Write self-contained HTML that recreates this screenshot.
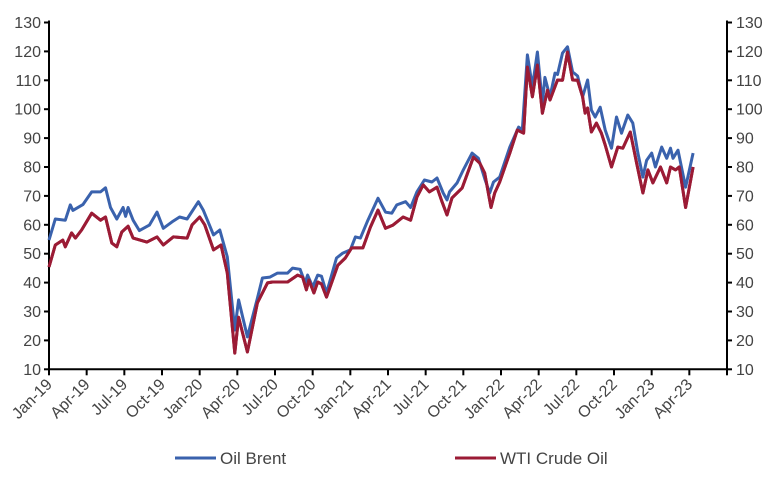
<!DOCTYPE html>
<html><head><meta charset="utf-8"><style>
body{margin:0;background:#fff;}
svg text{font-family:"Liberation Sans",sans-serif;fill:#444;}
</style></head><body>
<svg id="chart" width="776" height="477" viewBox="0 0 776 477" xmlns="http://www.w3.org/2000/svg"></svg>
<script>
const yTicks=[10,20,30,40,50,60,70,80,90,100,110,120,130];
const xTickLabels=["Jan-19","Apr-19","Jul-19","Oct-19","Jan-20","Apr-20","Jul-20","Oct-20","Jan-21","Apr-21","Jul-21","Oct-21","Jan-22","Apr-22","Jul-22","Oct-22","Jan-23","Apr-23"];
// months since Jan-2019
const brentDates=[0,0.5,1.3,1.7,1.9,2.7,3.4,4.1,4.5,4.9,5.4,5.9,6.1,6.3,6.7,7.2,8.0,8.6,9.1,9.8,10.4,11.0,11.9,12.3,13.1,13.6,14.2,14.8,15.1,15.8,16.6,17.0,17.6,18.2,19.0,19.4,20.0,20.4,20.6,21.0,21.4,21.7,22.1,22.9,23.4,24.0,24.4,24.8,25.4,26.2,26.8,27.3,27.7,28.4,28.8,29.3,29.9,30.5,30.9,31.4,31.7,31.9,32.5,33.0,33.7,34.2,34.7,35.1,35.4,35.9,36.7,37.4,37.7,38.1,38.5,38.9,39.3,39.5,39.9,40.3,40.5,40.9,41.3,41.7,42.1,42.5,42.9,43.2,43.5,43.9,44.3,44.8,45.2,45.6,46.1,46.5,46.9,47.3,47.6,48.0,48.3,48.8,49.2,49.5,49.7,50.1,50.7,51.3];
const brentValues=[54.7,62,61.6,66.9,65,67,71.4,71.4,72.8,66,62,66,62.9,66,61.6,58,59.9,64.4,58.8,61,62.7,62,68,65,56.5,58.2,48.9,23.6,34,21.2,34.6,41.6,41.9,43.3,43.3,45,44.6,39.9,42.6,38.5,42.6,42.2,36.4,48.5,50.2,51.3,55.8,55.4,61.6,69.2,64.4,64,66.9,68,66,71.4,75.5,74.8,76.2,71,68.6,71.4,74.5,79,84.8,83,76,71,74.8,76.5,86.9,93.8,92.8,118.8,107.7,119.8,102,111,104.3,112.5,112,119.4,121.6,112.9,111.5,104.3,110.1,99.7,97.3,100.7,92.8,86.5,97.3,91.7,98,95.2,84.8,76.5,82.3,84.8,80,86.9,83,86.5,83,85.8,73,84.8];
const wtiDates=[0,0.5,1.1,1.3,1.8,2.1,2.6,3.4,4.1,4.5,5.0,5.4,5.8,6.3,6.7,7.8,8.6,9.1,9.9,11.0,11.4,12.0,12.4,13.1,13.7,14.2,14.8,15.1,15.8,16.6,17.4,17.8,18.2,19.0,19.8,20.2,20.5,20.7,21.1,21.4,21.7,22.1,23.0,23.6,24.1,25.0,25.6,26.2,26.8,27.4,28.2,28.8,29.3,29.8,30.3,30.9,31.3,31.7,32.1,32.9,33.8,34.3,34.7,35.2,35.5,35.9,36.7,37.3,37.8,38.1,38.5,38.9,39.3,39.7,39.9,40.5,40.9,41.3,41.7,42.1,42.5,42.7,42.9,43.2,43.6,44.0,44.3,44.8,45.3,45.7,46.3,46.8,47.3,47.7,48.1,48.7,49.2,49.5,49.9,50.2,50.7,51.3];
const wtiValues=[45.4,53,54.7,52.4,57.2,55.4,58.2,64,61.6,62.7,53.7,52.4,57.5,59.5,55.4,54,55.8,53,55.8,55.4,60,62.7,60,51.3,53,43.3,15.6,28,16,33,39.9,40.2,40.2,40.2,42.6,41.9,37.5,40.9,36.4,40.2,39.5,35,46,48.5,52,52,59.2,65.1,58.8,59.9,62.7,61.6,69.6,73.8,71.4,73,68,63.4,69.3,72.7,83.4,81.4,77.9,66,71,74.8,84.8,92.8,91.7,114.6,104.3,115.3,98.6,106.6,103.2,110.1,110,119.8,110.1,110,104.3,98.6,100.4,92.1,95.2,91.7,87.6,80,86.9,86.5,92.1,81.4,71,79,74.5,80,74.5,80,79,80,66,80];

const NS="http://www.w3.org/2000/svg";
const svg=document.getElementById('chart');
const X0=49,X1=727,Y0=369.3,Y1=22.5;
const xScale=m=>X0+(m/54)*(X1-X0);
const yScale=v=>Y0-(v-10)/120*(Y0-Y1);
function mk(tag,attrs){const e=document.createElementNS(NS,tag);for(const k in attrs)e.setAttribute(k,attrs[k]);svg.appendChild(e);return e;}

let ax=mk('line',{x1:X0,y1:Y1-2,x2:X0,y2:Y0,stroke:'#000','stroke-width':2});


ax=mk('line',{x1:X1,y1:Y1-2,x2:X1,y2:Y0,stroke:'#000','stroke-width':2});


ax=mk('line',{x1:X0,y1:Y0,x2:X1,y2:Y0,stroke:'#000','stroke-width':2});



yTicks.forEach(v=>{
  const y=yScale(v);
  mk('line',{x1:X0-5,y1:y,x2:X0,y2:y,stroke:'#000','stroke-width':2});
  mk('line',{x1:X1,y1:y,x2:X1+5,y2:y,stroke:'#000','stroke-width':2});
  const t=mk('text',{x:X0-8,y:y+5.5,'text-anchor':'end','font-size':16});
  t.textContent=v;
  
  
  const t2=mk('text',{x:X1+9,y:y+5.5,'text-anchor':'start','font-size':16});
  t2.textContent=v;
  
  
});
xTickLabels.forEach((lab,i)=>{
  const x=xScale(i*3);
  mk('line',{x1:x,y1:Y0,x2:x,y2:Y0+6,stroke:'#000','stroke-width':2});
  const t=mk('text',{x:x+4,y:Y0+16,'text-anchor':'end','font-size':16,transform:`rotate(-45 ${x+4} ${Y0+16})`});
  t.textContent=lab;
  
  
});
mk('line',{x1:X1,y1:Y0,x2:X1,y2:Y0+6,stroke:'#000','stroke-width':2});

function series(dates,vals,color,name){
  const d=dates.map((m,i)=>(i?'L':'M')+xScale(m).toFixed(1)+','+yScale(vals[i]).toFixed(1)).join('');
  const p=mk('path',{d:d,fill:'none',stroke:color,'stroke-width':3,'stroke-linejoin':'round'});
  
  
}
series(wtiDates,wtiValues,'#9b1b35','wti-line');
series(brentDates,brentValues,'#3a62ad','brent-line');
series(wtiDates,wtiValues,'#9b1b35','wti-line-overlay');

let l=mk('line',{x1:175,y1:458,x2:216,y2:458,stroke:'#3a62ad','stroke-width':3});


let lt=mk('text',{x:220,y:464,'font-size':17});
lt.textContent='Oil Brent';


l=mk('line',{x1:455,y1:458,x2:496,y2:458,stroke:'#9b1b35','stroke-width':3});


lt=mk('text',{x:500,y:464,'font-size':17});
lt.textContent='WTI Crude Oil';


</script>
</body></html>
